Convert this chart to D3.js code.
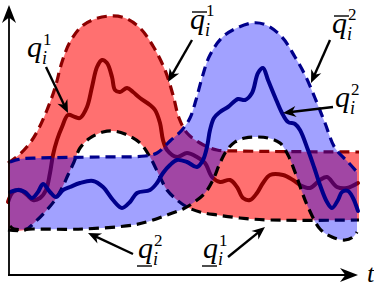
<!DOCTYPE html>
<html>
<head>
<meta charset="utf-8">
<script src="https://cdn.jsdelivr.net/npm/d3@7"></script>
<style>
  html, body { margin: 0; padding: 0; background: #fff; }
  svg { display: block; }
</style>
</head>
<body>
<div id="chart"></div>
<script>
// upper / lower bounds of the two bands, [t, value]
const upper1 = [[0,112],[12,121],[22,132],[30,145],[39,165],[47,187],[54,213],[62,233],[74,249],[87,256],[102,259],[117,257],[132,247],[145,229],[157,205],[165,180],[171,157],[179,142],[192,132],[209,125],[232,124],[351,123]];
const lower1 = [[0,45],[17,45],[27,53],[37,63],[47,75],[54,87],[60,100],[66,113],[72,127],[82,137],[95,143],[105,144],[117,141],[132,132],[142,118],[152,98],[159,85],[169,75],[179,68],[192,63],[209,60],[232,57],[262,55],[351,55]];
const upper2 = [[2,113],[12,116],[32,117],[92,118],[137,119],[149,122],[162,134],[174,145],[182,157],[188,175],[194,197],[202,220],[217,240],[244,252],[258,250],[274,238],[287,218],[297,200],[307,177],[317,152],[327,127],[340,113],[349,103]];
const lower2 = [[2,49],[6,46],[25,46],[75,46],[125,50],[142,54],[159,60],[175,66],[185,72],[197,82],[205,95],[212,112],[219,125],[227,133],[237,137],[249,138],[260,137],[272,132],[280,120],[287,103],[294,83],[300,68],[312,46],[324,38],[337,35],[345,38],[349,43]];

// the two trajectories q^1 and q^2
const q1 = [[0,73],[5,83],[12,85],[19,80],[25,75],[32,77],[38,85],[42,102],[45,120],[49,135],[54,148],[60,160],[67,158],[72,157],[79,168],[84,188],[89,208],[94,215],[99,212],[104,198],[107,185],[112,183],[119,187],[125,183],[132,177],[142,170],[147,165],[152,152],[155,135],[159,125],[169,118],[179,122],[189,118],[197,112],[204,98],[212,93],[222,95],[229,88],[235,77],[242,75],[249,82],[255,92],[262,100],[275,100],[285,95],[292,90],[302,87],[312,95],[319,98],[329,88],[339,87],[350,92]];
const q2 = [[2,83],[10,85],[17,83],[24,77],[30,83],[35,91],[42,83],[48,78],[55,85],[62,88],[72,92],[85,94],[95,88],[105,75],[114,67],[122,73],[129,82],[142,85],[149,92],[155,102],[162,110],[169,115],[179,113],[189,108],[195,115],[199,128],[202,145],[206,157],[212,163],[220,168],[230,176],[237,175],[244,182],[250,202],[255,207],[260,195],[267,178],[274,162],[280,153],[287,151],[292,145],[300,125],[306,108],[312,90],[319,73],[324,67],[330,75],[334,83],[340,84],[345,77],[350,64]];

// annotations: label parts, label anchor, arrow from -> to
const labelMarks = ["", "bar", "bar", "", "under", "under"];
const labelSups = ["1", "1", "2", "2", "2", "1"];
const labelAnchors = [[19,218],[182,246],[324,242],[327,168],[130,17],[195,17]];
const arrowFrom = [[38,208],[184,235],[322,235],[325,168],[125,21],[220,18]];
const arrowTo = [[60,162],[160,193],[303,192],[275,162],[80,42],[257,48]];

const width = 374, height = 288;

const svg = d3.select("#chart")
    .append("svg")
    .attr("width", width)
    .attr("height", height)
    .attr("viewBox", [0, 0, width, height]);

const x = d3.scaleLinear().domain([0, 350]).range([8, 358]);
const y = d3.scaleLinear().domain([0, 270]).range([275, 5]);

const line = d3.line()
    .x(d => x(d[0]))
    .y(d => y(d[1]))
    .curve(d3.curveCatmullRom.alpha(0.5));

function bandPath(upper, lower) {
    let top = line(upper);
    let bottom = line(lower.slice().reverse());
    return top + "L" + bottom.slice(1) + "Z";
}

function drawBand(upper, lower, fill, opacity, upperColor) {
    svg.append("path")
        .attr("d", bandPath(upper, lower))
        .attr("fill", fill)
        .attr("fill-opacity", opacity);
    svg.append("path")
        .attr("d", line(upper))
        .attr("fill", "none")
        .attr("stroke", upperColor)
        .attr("stroke-width", 3.2)
        .attr("stroke-dasharray", "10 6");
    svg.append("path")
        .attr("d", line(lower))
        .attr("fill", "none")
        .attr("stroke", "#000")
        .attr("stroke-width", 3.2)
        .attr("stroke-dasharray", "10 6");
}

function drawCurve(data, color) {
    svg.append("path")
        .attr("d", line(data))
        .attr("fill", "none")
        .attr("stroke", color)
        .attr("stroke-width", 4)
        .attr("stroke-linecap", "round")
        .attr("stroke-linejoin", "round");
}

// band 1 + q1 first, band 2 drawn over it
drawBand(upper1, lower1, "#ff0000", 0.56, "#8b0000");
drawCurve(q1, "#8b0000");
drawBand(upper2, lower2, "#0000ff", 0.37, "#00008b");
drawCurve(q2, "#00008b");

//arrow with a latex style head
function arrow(x1, y1, x2, y2, len, half, sw) {
    let ang = Math.atan2(y2 - y1, x2 - x1);
    let c = Math.cos(ang), s = Math.sin(ang);
    let bx = x2 - c * len, by = y2 - s * len;
    let nx = x2 - c * len * 0.7, ny = y2 - s * len * 0.7;
    svg.append("line")
        .attr("x1", x1).attr("y1", y1)
        .attr("x2", nx + c).attr("y2", ny + s)
        .attr("stroke", "#000")
        .attr("stroke-width", sw);
    svg.append("path")
        .attr("d", `M${x2},${y2}L${bx - s * half},${by + c * half}L${nx},${ny}L${bx + s * half},${by - c * half}Z`)
        .attr("fill", "#000");
}

// axes
arrow(x(0) + 1, y(0), x(0) + 1, 5, 18, 7, 1.8);
arrow(x(0), y(0), x(350), y(0), 18, 7, 1.8);

for (let i = 0; i < arrowFrom.length; i++) {
    arrow(x(arrowFrom[i][0]), y(arrowFrom[i][1]), x(arrowTo[i][0]), y(arrowTo[i][1]), 13, 5.5, 2.4);
}

// labels
const font = "'Liberation Serif', 'Times New Roman', serif";
for (let i = 0; i < labelAnchors.length; i++) {
    let lx = x(labelAnchors[i][0]), ly = y(labelAnchors[i][1]);
    let g = svg.append("g").attr("transform", `translate(${lx},${ly})`);
    g.append("text")
        .attr("x", 0).attr("y", 0)
        .attr("font-family", font)
        .attr("font-style", "italic")
        .attr("font-size", 30)
        .text("q");
    let supY = labelMarks[i] === "bar" ? -13 : -12;
    g.append("text")
        .attr("x", 16).attr("y", supY)
        .attr("font-family", font)
        .attr("font-size", 17)
        .text(labelSups[i]);
    g.append("text")
        .attr("x", 15).attr("y", 7)
        .attr("font-family", font)
        .attr("font-style", "italic")
        .attr("font-size", 18)
        .text("i");
    if (labelMarks[i] === "bar") {
        g.append("line")
            .attr("x1", 2).attr("x2", 17)
            .attr("y1", -17).attr("y2", -17)
            .attr("stroke", "#000").attr("stroke-width", 1.4);
    } else if (labelMarks[i] === "under") {
        g.append("line")
            .attr("x1", -1).attr("x2", 14)
            .attr("y1", 8).attr("y2", 8)
            .attr("stroke", "#000").attr("stroke-width", 1.4);
    }
}

svg.append("text")
    .attr("x", x(359)).attr("y", y(-7))
    .attr("font-family", font)
    .attr("font-style", "italic")
    .attr("font-size", 26)
    .text("t");
</script>
</body>
</html>
